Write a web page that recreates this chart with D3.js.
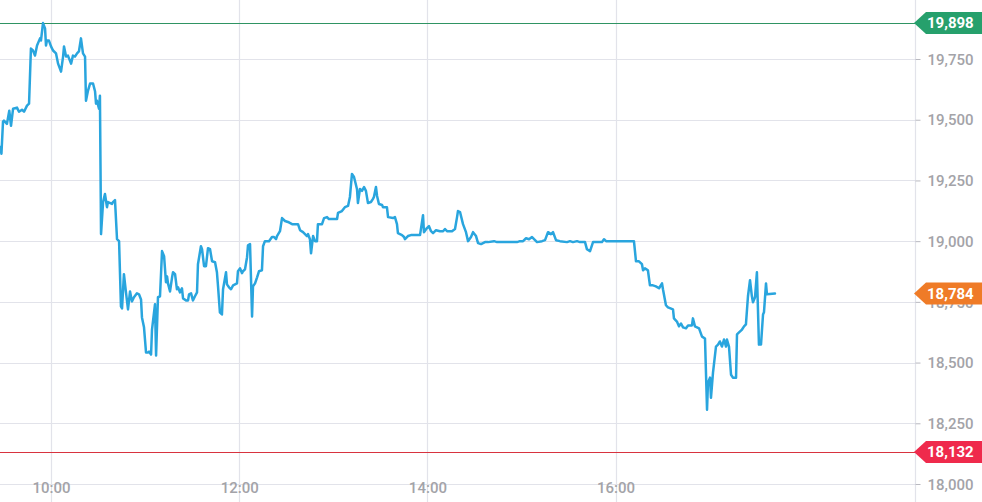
<!DOCTYPE html>
<html>
<head>
<meta charset="utf-8">
<script src="https://cdn.jsdelivr.net/npm/d3@7"></script>
<style>
  html, body { margin: 0; padding: 0; background: #fff; }
  svg { display: block; }
  text { font-family: Roboto, "Noto Sans", sans-serif; }
</style>
</head>
<body>
<svg id="chart" width="982" height="502"></svg>
<script>
// ---- data: minutes after 09:30 and index value ----
const minutes = [
  -2.2,-1.6,-0.6,0.0,1.9,3.4,4.5,5.8,8.3,9.6,11.5,12.8,14.7,16.0,17.2,18.5,19.8,21.1,23.0,23.6,
  24.9,26.2,26.8,27.4,28.7,30.0,31.3,33.2,34.5,36.4,37.7,38.3,39.6,40.8,42.8,44.0,45.3,46.6,47.8,49.1,
  50.4,51.7,52.3,53.6,54.9,56.8,58.1,58.7,59.3,60.6,61.2,61.9,63.2,64.4,65.7,66.3,68.9,69.5,70.8,72.1,
  73.4,74.6,75.3,76.5,77.8,79.1,80.4,81.6,82.9,84.8,86.1,87.4,88.0,89.3,90.6,91.8,92.5,93.8,94.4,96.3,
  97.0,98.2,99.5,100.8,102.1,103.3,104.0,104.6,105.9,107.2,107.8,109.1,110.3,111.0,112.2,113.5,114.2,116.1,117.4,118.0,
  119.3,120.5,121.8,123.1,123.7,125.6,126.3,127.6,128.8,130.1,131.4,132.7,134.6,135.8,136.5,137.7,139.0,139.7,141.6,142.2,
  143.5,144.8,146.1,148.6,149.2,150.5,151.8,152.4,153.7,155.0,155.6,156.9,158.2,158.8,160.1,161.4,162.6,164.5,165.2,166.4,
  167.7,169.0,170.9,172.2,173.5,174.1,176.0,177.3,179.2,181.1,183.7,187.5,188.8,190.7,193.2,193.9,195.1,195.8,197.1,198.3,
  199.6,200.2,202.8,204.1,206.0,207.2,212.4,213.0,215.5,217.4,219.4,220.6,221.9,223.2,225.1,225.7,227.0,228.3,229.6,230.8,
  232.1,234.0,235.3,235.9,237.2,237.9,239.1,241.1,241.7,244.2,244.9,248.1,249.3,250.6,251.2,253.8,255.1,255.7,257.6,259.5,
  263.4,265.3,267.2,267.8,269.7,271.0,272.3,273.6,275.5,278.0,280.0,281.2,282.5,285.7,287.6,288.9,289.5,290.8,292.7,294.6,
  295.9,297.8,299.1,301.0,302.3,304.2,306.7,308.6,312.5,314.4,327.1,329.0,331.0,332.9,334.8,336.7,338.0,339.9,343.1,345.0,
  346.9,348.8,350.1,352.0,354.5,359.0,360.9,362.8,365.4,367.3,370.5,371.7,373.7,375.6,378.1,381.3,382.6,383.9,386.4,390.9,
  401.7,403.0,404.9,406.8,407.5,408.7,410.6,411.9,413.8,415.7,417.7,419.6,420.2,422.1,423.4,426.6,427.2,429.1,430.4,431.7,
  433.0,434.9,436.2,438.7,439.3,440.6,443.2,445.1,447.0,448.3,448.9,450.2,450.8,452.1,454.0,455.3,456.5,457.8,459.1,460.4,
  461.0,462.3,463.6,464.8,466.8,467.4,468.7,470.6,471.9,473.1,474.4,475.7,476.9,477.6,478.9,480.1,481.4,482.7,484.0,484.6,
  485.9,486.5,491.6
];
const values = [
  19388,19360,19492,19496,19483,19537,19475,19545,19550,19533,19541,19533,19558,19566,19793,19785,19764,19806,19835,19826,
  19898,19876,19806,19826,19826,19802,19785,19773,19731,19698,19760,19802,19760,19764,19731,19764,19760,19773,19781,19835,
  19773,19760,19578,19620,19649,19649,19616,19566,19578,19545,19599,19029,19161,19194,19140,19161,19153,19161,19169,19008,
  19000,18731,18723,18864,18789,18719,18793,18752,18769,18785,18781,18760,18686,18645,18541,18541,18545,18533,18636,18740,
  18529,18769,18773,18959,18938,18831,18855,18826,18793,18851,18872,18864,18802,18810,18789,18806,18764,18756,18756,18781,
  18785,18756,18773,18789,18905,18979,18967,18897,18897,18971,18967,18917,18913,18872,18814,18707,18698,18802,18872,18822,
  18810,18802,18818,18826,18876,18888,18868,18876,18884,18934,18983,18988,18690,18814,18826,18851,18876,18880,18979,19000,
  19000,19000,19017,19017,19008,19021,19041,19095,19083,19079,19070,19070,19045,19037,19021,19029,19008,18950,19021,19000,
  19000,19070,19070,19095,19099,19091,19091,19116,19124,19140,19145,19182,19277,19264,19215,19157,19215,19207,19223,19207,
  19157,19161,19174,19182,19223,19186,19153,19149,19140,19140,19099,19095,19099,19070,19033,19025,19017,19008,19021,19025,
  19025,19025,19107,19037,19054,19062,19041,19033,19045,19041,19041,19050,19041,19041,19050,19099,19124,19120,19070,19037,
  19000,19017,19037,19021,18992,18988,18996,18996,19000,18996,18996,19000,19000,19012,19008,19017,19008,18996,19000,19004,
  19037,19029,19037,19004,19000,18996,19000,18996,19000,18996,18996,18967,18959,18996,18996,18996,19008,19000,19000,19000,
  19000,18917,18917,18905,18880,18888,18880,18818,18818,18814,18806,18826,18802,18736,18727,18719,18682,18669,18649,18661,
  18645,18641,18653,18653,18682,18649,18641,18607,18599,18306,18417,18438,18355,18459,18566,18574,18587,18566,18595,18566,
  18595,18566,18450,18438,18438,18616,18624,18636,18649,18657,18773,18839,18773,18748,18769,18872,18574,18574,18698,18707,
  18826,18781,18784
];
const timeTicks = ["10:00", "12:00", "14:00", "16:00"];
const valueTicks = [18000, 18250, 18500, 18750, 19000, 19250, 19500, 19750];
const markers = [
  { label: "high", value: 19898, color: "#26a06c", line: "#2f9463" },
  { label: "low",  value: 18132, color: "#ef2a4c", line: "#d8333f" },
  { label: "last", value: 18784, color: "#ef7b27", line: null }
];

// ---- layout ----
const W = 982, H = 502;
const plotRight = 915, plotBottom = 484;
const base = new Date(2024, 0, 2, 9, 30, 0);
const toDate = m => new Date(base.getTime() + m * 60000);
const parseHM = s => { const [h, mm] = s.split(":").map(Number); return new Date(2024, 0, 2, h, mm, 0); };

const x = d3.scaleTime()
  .domain([toDate(-2.52), toDate(580.9)])
  .range([0, plotRight]);
const y = d3.scaleLinear().domain([18000, 20000]).range([plotBottom, -1.7]);

const svg = d3.select("#chart");
const gridColor = "#e2e3ea";
const labelColor = "#a3a3a8";

// horizontal grid
svg.append("g").selectAll("line").data(valueTicks).join("line")
  .attr("x1", 0).attr("x2", plotRight)
  .attr("y1", d => Math.round(y(d)) + 0.5).attr("y2", d => Math.round(y(d)) + 0.5)
  .attr("stroke", gridColor).attr("stroke-width", 1.2);

// vertical grid
svg.append("g").selectAll("line").data(timeTicks).join("line")
  .attr("x1", d => Math.round(x(parseHM(d))) + 0.5).attr("x2", d => Math.round(x(parseHM(d))) + 0.5)
  .attr("y1", 0).attr("y2", H)
  .attr("stroke", gridColor).attr("stroke-width", 1.2);

// right axis
const yAxis = d3.axisRight(y).tickValues(valueTicks).tickFormat(d3.format(",")).tickSize(5).tickPadding(7);
const gy = svg.append("g").attr("transform", `translate(${plotRight + 0.5},0)`).call(yAxis);
gy.select(".domain").attr("d", `M0,0V${H}`).attr("stroke", gridColor).attr("stroke-width", 1.2);
gy.selectAll(".tick line").attr("stroke", "#b9b9c0");
gy.selectAll(".tick text").attr("fill", labelColor).attr("font-size", 15).attr("font-weight", 500)
  .attr("font-family", "Roboto, sans-serif").attr("dy", "0.35em");

// bottom axis labels
const xAxis = d3.axisBottom(x).tickValues(timeTicks.map(parseHM)).tickFormat(d3.timeFormat("%H:%M")).tickSize(0).tickPadding(0);
const gx = svg.append("g").attr("transform", `translate(0,${plotBottom})`).call(xAxis);
gx.select(".domain").remove();
gx.selectAll(".tick text").attr("fill", labelColor).attr("font-size", 15).attr("font-weight", 500)
  .attr("font-family", "Roboto, sans-serif").attr("dy", "0.35em").attr("y", 4);

// high / low lines
markers.filter(m => m.line).forEach(m => {
  svg.append("line").attr("x1", 0).attr("x2", plotRight)
    .attr("y1", Math.round(y(m.value)) + 0.5).attr("y2", Math.round(y(m.value)) + 0.5)
    .attr("stroke", m.line).attr("stroke-width", 1.2);
});

// price line
const data = minutes.map((m, i) => ({ t: toDate(m), v: values[i] }));
svg.append("path").datum(data)
  .attr("fill", "none").attr("stroke", "#29a5de").attr("stroke-width", 2.5)
  .attr("stroke-linejoin", "round").attr("stroke-linecap", "round")
  .attr("d", d3.line().x(d => x(d.t)).y(d => y(d.v)));

// badges
markers.forEach(m => {
  const cy = y(m.value);
  const tip = plotRight - 1, bx = 926, hh = 11;
  svg.append("path")
    .attr("d", `M${tip},${cy} L${bx},${cy - hh} L${W},${cy - hh} L${W},${cy + hh} L${bx},${cy + hh} Z`)
    .attr("fill", m.color);
  svg.append("text").attr("x", 927).attr("y", cy).attr("dy", "0.36em")
    .attr("fill", "#fff").attr("font-size", 15).attr("font-weight", 700)
    .text(d3.format(",")(m.value));
});
</script>
</body>
</html>
